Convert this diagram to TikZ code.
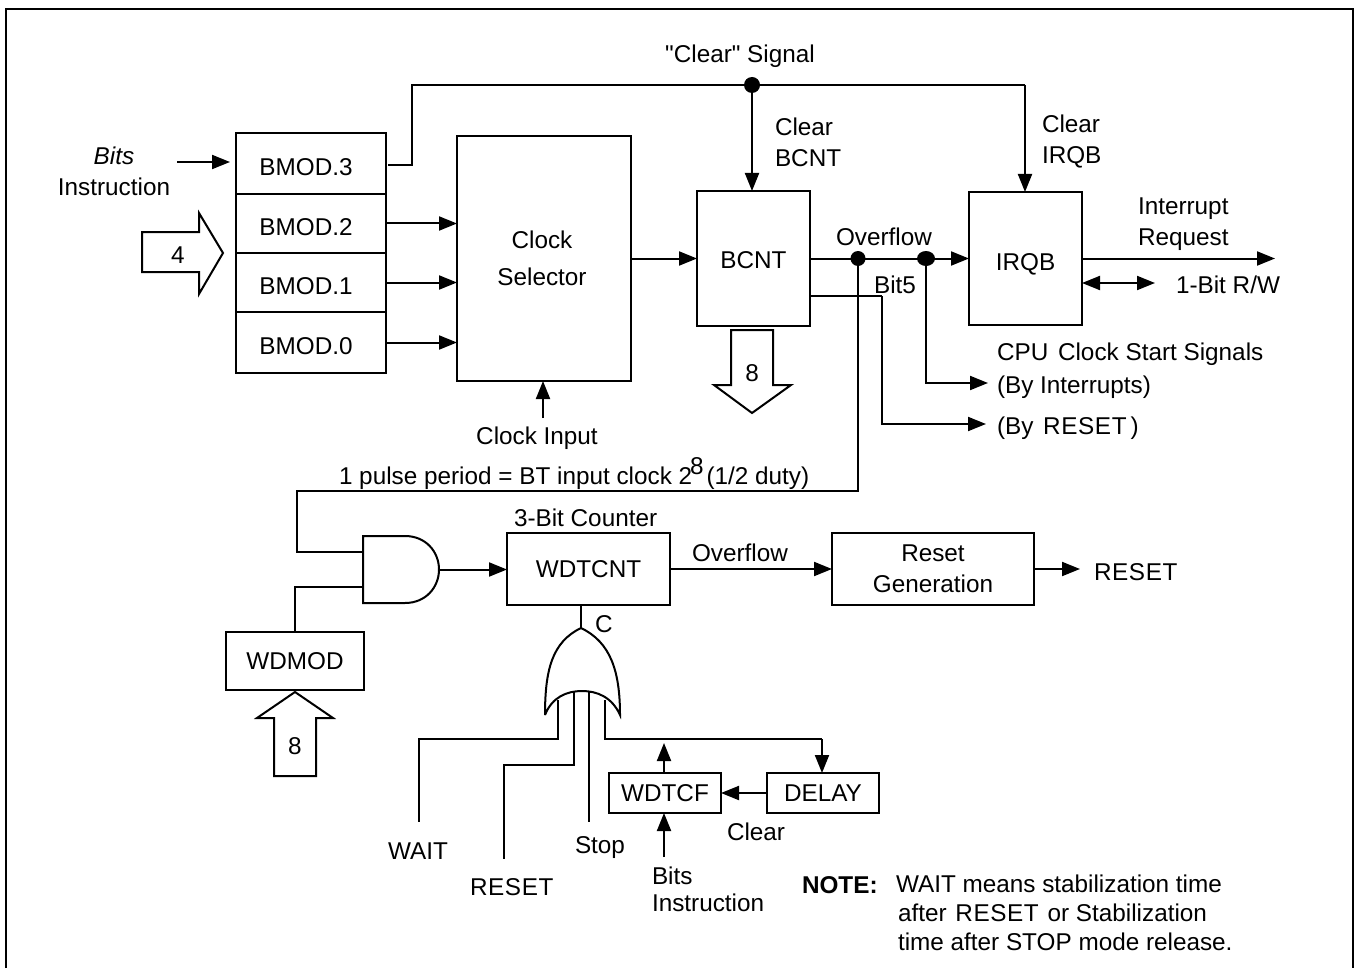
\documentclass[tikz,border=0pt]{standalone}
\usepackage{fontspec}
\setmainfont{Liberation Sans}
\newfontfamily\resetfont[LetterSpace=2.5]{Liberation Sans}
\newfontfamily\quotefont{Liberation Sans}
\usetikzlibrary{arrows.meta,calc,shapes.geometric}
\newcommand{\rst}{{\resetfont RESET}}
\tikzset{
  block/.style={rectangle, draw, line width=1.1pt, inner sep=0pt, outer sep=0pt, align=center},
  cell/.style={block, minimum width=75pt, text height=12.2pt, text depth=0pt},
  lbl/.style={inner sep=0pt, outer sep=0pt, align=left},
  wire/.style={line width=1pt},
  arr/.style={-{Triangle[length=9pt,width=7pt]}, line width=1pt},
  dotj/.style={circle, fill=black, inner sep=0pt, minimum size=7.5pt},
  bigarr/.style={line width=1pt, line join=miter},
}

\begin{document}
\begin{tikzpicture}[x=0.5pt,y=-0.5pt,font=\fontsize{12.15}{15.5}\selectfont]
  \useasboundingbox (0,0) rectangle (1358,968);
  \draw[line width=1.3pt] (6,968) -- (6,9) -- (1353,9) -- (1353,968);
  % blocks
  \node[cell, minimum height=30.5pt] (bmodc) at (311,163.5) {BMOD.3\kern5pt};
  \node[cell, minimum height=29.5pt] (bmodb) at (311,223.5) {BMOD.2\kern5pt};
  \node[cell, minimum height=29.5pt] (bmoda) at (311,282.5) {BMOD.1\kern5pt};
  \node[cell, minimum height=30.5pt] (bmodz) at (311,342.5) {BMOD.0\kern5pt};
  \node[block, minimum width=87pt, minimum height=122.5pt] (sel) at (544,258.5) {Clock\kern2pt\\[3pt]Selector\kern2pt};
  \node[block, minimum width=56.5pt, minimum height=67.5pt, text height=9.7pt, text depth=0pt] (bcnt) at (753.5,258.5) {BCNT};
  \node[block, minimum width=56.5pt, minimum height=66.5pt, text height=11.7pt, text depth=0pt] (irqb) at (1025.5,258.5) {IRQB};
  \node[block, minimum width=81.5pt, minimum height=36pt] (wdtcnt) at (588.5,569) {WDTCNT};
  \node[block, minimum width=101pt, minimum height=36pt] (rstgen) at (933,569) {Reset\\Generation};
  \node[block, minimum width=69pt, minimum height=29pt] (wdmod) at (295,661) {WDMOD};
  \node[block, minimum width=56pt, minimum height=20pt] (wdtcf) at (665,793) {WDTCF};
  \node[block, minimum width=56pt, minimum height=20pt] (delay) at (823,793) {DELAY};
  % gates
  \coordinate (andup) at (363,552);
  \coordinate (andlo) at (363,587);
  \coordinate (andout) at (439,569.5);
  \draw[wire] (363,536) -- (405,536) .. controls (426,536) and (439,552) .. (andout)
    .. controls (439,587) and (426,603) .. (405,603) -- (363,603) -- cycle;
  \coordinate (orout) at (581,628);
  \coordinate (orwait) at (558,700);
  \coordinate (orrst) at (574,692);
  \coordinate (orstop) at (589,692);
  \coordinate (orfb) at (605,700);
  \draw[wire] (545,715) .. controls (545,670) and (552,642) .. (581,628)
    .. controls (610,642) and (620,670) .. (620,715)
    .. controls (612,697) and (597,691) .. (582,691)
    .. controls (567,691) and (552,697) .. (545,715);
  % wires
  \coordinate (clrstart) at (388,165);
  \coordinate (clrbend) at (412,85);
  \coordinate (clrdot) at (752,85);
  \node[dotj, minimum size=8pt] (jclr) at (clrdot) {};
  \draw[wire] (clrstart) -| (clrbend) -- (clrdot);
  \draw[arr] (clrdot) -- (clrdot |- bcnt.north);
  \coordinate (irqin) at (1025,85);
  \draw[wire] (clrdot) -- (irqin);
  \draw[arr] (irqin) -- (irqin |- irqb.north);
  \coordinate (bitsend) at (177,162);
  \coordinate (bitstip) at (230,162);
  \draw[arr] (bitsend) -- (bitstip);
  \draw[arr] (bmodb.east) -- (bmodb.east -| sel.west);
  \draw[arr] (bmoda.east) -- (bmoda.east -| sel.west);
  \draw[arr] (bmodz.east) -- (bmodz.east -| sel.west);
  \coordinate (clkin) at (543,418);
  \draw[arr] (clkin) -- (clkin |- sel.south);
  \draw[arr] (sel.east) -- (bcnt.west);
  \draw[arr] (bcnt.east) -- (irqb.west);
  \node[dotj] (jovf) at (858,258.5) {};
  \node[dotj, ellipse, minimum width=9pt, minimum height=7.5pt] (jcpu) at (926,258.5) {};
  \coordinate (cpuend) at (988,383);
  \draw[arr] (jcpu.center) |- (cpuend);
  \coordinate (bit5) at (810,296);
  \coordinate (bit5r) at (882,296);
  \coordinate (rstend) at (986,424);
  \draw[wire] (bit5) -- (bit5r);
  \draw[arr] (bit5r) |- (rstend);
  \coordinate (irqend) at (1275,258.5);
  \draw[arr] (irqb.east) -- (irqend);
  \coordinate (rwend) at (1155,283);
  \draw[{Triangle[length=9pt,width=7pt]}-{Triangle[length=9pt,width=7pt]}, line width=1pt] (irqb.east |- rwend) -- (rwend);
  \coordinate (pulseup) at (858,491);
  \coordinate (pulseleft) at (297,491);
  \draw[wire] (jovf.center) -- (pulseup) -- (pulseleft) |- (andup);
  \draw[wire] (wdmod.north) |- (andlo);
  \draw[arr] (andout) -- (andout -| wdtcnt.west);
  \draw[arr] (wdtcnt.east) -- (rstgen.west);
  \coordinate (genout) at (1080,569);
  \draw[arr] (rstgen.east) -- (genout);
  \draw[wire] (orout |- wdtcnt.south) -- (orout);
  \coordinate (waitbend) at (419,739);
  \coordinate (waitend) at (419,822);
  \draw[wire] (orwait) |- (waitbend) -- (waitend);
  \coordinate (rstbend) at (504,765);
  \coordinate (rstlow) at (504,859);
  \draw[wire] (orrst) |- (rstbend) -- (rstlow);
  \coordinate (stopend) at (589,822);
  \draw[wire] (orstop) -- (stopend);
  \coordinate (fbbend) at (822,739);
  \draw[wire] (orfb) |- (fbbend);
  \draw[arr] (fbbend) -- (fbbend |- delay.north);
  \coordinate (cfup) at (664,743);
  \draw[arr] (cfup |- wdtcf.north) -- (cfup);
  \draw[arr] (delay.west) -- (wdtcf.east);
  \coordinate (cfbits) at (664,857);
  \draw[arr] (cfbits) -- (cfbits |- wdtcf.south);
  % hollow arrows
  \draw[bigarr] (142,232) -- (199,232) -- (199,213) -- (223,253) -- (199,294) -- (199,272) -- (142,272) -- cycle;
  \node (nfour) at (178,255) {4};
  \draw[bigarr] (731,330) -- (773,330) -- (773,385) -- (791,385) -- (752,413) -- (714,385) -- (731,385) -- cycle;
  \node (neighta) at (752,373) {8};
  \draw[bigarr] (295,692) -- (333,718) -- (316,718) -- (316,776) -- (274,776) -- (274,718) -- (257,718) -- cycle;
  \node (neightb) at (295,746) {8};
  % labels
  \node[lbl] (tclr) at (740,56) {{\quotefont"Clear"} Signal};
  \node[lbl, anchor=west] (tclrb) at (775,142) {Clear\\BCNT};
  \node[lbl, anchor=west] (tclri) at (1042,141) {Clear\\IRQB};
  \node[lbl, align=center] (tbits) at (114,171.5) {\textit{Bits}\\Instruction};
  \node[lbl] (tovf) at (884,237) {Overflow};
  \node[lbl] (tbit) at (895,285) {Bit5};
  \node[lbl, anchor=west] (tint) at (1138,224) {Interrupt\\Request};
  \node[lbl, anchor=west] (trw) at (1176,285) {1-Bit R/W};
  \node[lbl, anchor=west] (tcpu) at (997,354) {CPU\kern1.5pt\ Clock Start Signals};
  \node[lbl, anchor=west] (tbyi) at (997,387) {(By Interrupts)};
  \node[lbl, anchor=west] (tbyr) at (997,428) {(By\kern1.5pt\ \rst\,)};
  \node[lbl] (tclk) at (537,438) {Clock Input};
  \node[lbl, anchor=west] (tpulse) at (339,474) {1 pulse period = BT input clock 2\kern-1pt\raisebox{5pt}{8}\kern-2pt\ (1/2 duty)};
  \node[lbl, anchor=west] (tcnt) at (514,518) {3-Bit Counter};
  \node[lbl] (tovfb) at (740,553) {Overflow};
  \node[lbl, anchor=west] (trst) at (1094,572) {\rst};
  \node[lbl] (tc) at (604,624) {C};
  \node[lbl, anchor=west] (twait) at (388,851) {WAIT};
  \node[lbl, anchor=west] (trstb) at (470,887) {\rst};
  \node[lbl, anchor=west] (tstop) at (575,848) {Stop};
  \node[lbl, anchor=west] (tclear) at (727,832) {Clear};
  \node[lbl, anchor=west, font=\fontsize{12.15}{13.5}\selectfont] (tbitsb) at (652,889) {Bits\\Instruction};
  \node[lbl, anchor=west] (tnote) at (802,885) {\textbf{NOTE:}};
  \node[lbl, anchor=west] (tnotea) at (896,884) {WAIT means stabilization time};
  \node[lbl, anchor=west] (tnoteb) at (898,913) {after\kern1pt\ \rst\kern1pt\ or Stabilization};
  \node[lbl, anchor=west] (tnotec) at (898,942) {time after STOP mode release.};
\end{tikzpicture}
\end{document}
